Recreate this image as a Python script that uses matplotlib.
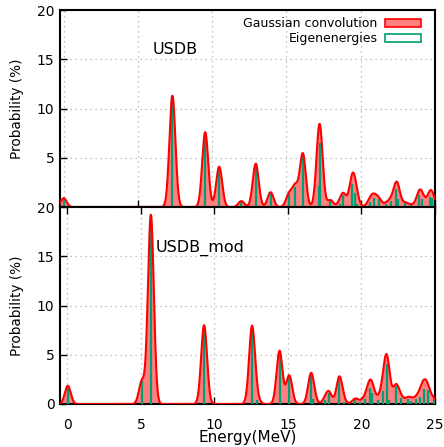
import numpy as np
import matplotlib
matplotlib.use("Agg")
import matplotlib.pyplot as plt
from matplotlib.patches import Patch

# eigenenergies (MeV) and strengths (%)
usdb_e = [0.0, 7.32, 9.53, 10.47, 11.96, 12.93, 13.93, 15.17, 15.59, 16.1,
          17.16, 17.25, 17.95, 18.6, 18.83, 19.41, 19.6, 19.75, 20.6, 20.86,
          21.2, 21.7, 22.03, 22.39, 22.52, 23.0, 23.4, 23.92, 24.14, 24.64, 24.82]
usdb_p = [0.9, 11.3, 7.6, 4.1, 0.6, 4.4, 1.5, 1.3, 2.05, 5.4,
          2.1, 6.5, 0.7, 0.3, 1.25, 2.35, 1.4, 0.3, 0.55, 0.95,
          0.8, 0.3, 0.6, 1.8, 0.8, 0.4, 0.2, 1.2, 0.85, 1.0, 0.9]

mod_e = [0.03, 5.07, 5.68, 9.3, 12.56, 12.9, 14.43, 15.09, 16.56, 16.73,
         17.52, 17.79, 18.5, 18.81, 19.56, 19.9, 20.25, 20.55, 20.75, 21.13,
         21.47, 21.72, 21.88, 22.34, 22.67, 23.14, 23.36, 23.7, 24.0, 24.23,
         24.5, 24.9]
mod_p = [1.85, 2.3, 19.2, 8.0, 7.85, 0.45, 5.4, 2.9, 2.8, 0.5,
         0.4, 1.15, 2.75, 0.2, 0.5, 0.2, 0.5, 1.6, 1.08, 0.4,
         1.32, 4.1, 0.45, 1.8, 0.64, 0.5, 0.3, 0.5, 0.7, 1.5,
         1.42, 0.5]

x_ticks = [0, 5, 10, 15, 20, 25]
y_ticks = [0, 5, 10, 15, 20]

SIGMA = 0.2  # Gaussian width used for the convolution (MeV)

RED = '#ff0000'
FILL = '#ff8080'
GREEN = '#009e73'


def convolve(energies, probs, x):
    e = np.asarray(energies)[:, None]
    p = np.asarray(probs)[:, None]
    return (p * np.exp(-(x[None, :] - e) ** 2 / (2 * SIGMA ** 2))).sum(axis=0)


fig = plt.figure(figsize=(4.44, 4.47), dpi=100)
ax1 = fig.add_axes([0.1351, 0.5369, 0.8446, 0.4407])
ax2 = fig.add_axes([0.1351, 0.0962, 0.8446, 0.4407])

panels = [(ax1, usdb_e, usdb_p, 'USDB', -0.25), (ax2, mod_e, mod_p, 'USDB_mod', -0.5)]

for ax, ee, pp, name, xmin in panels:
    x = np.linspace(xmin, 25, 2000)
    y = convolve(ee, pp, x)
    ax.fill_between(x, 0, y, color=FILL, lw=0, zorder=2)
    ax.vlines(ee, 0, pp, color=GREEN, lw=1.6, zorder=3)
    ax.plot(x, y, color=RED, lw=1.5, zorder=4)

    ax.set_xlim(xmin, 25)
    ax.set_ylim(0, 20)
    ax.set_xticks(x_ticks)
    ax.set_yticks(y_ticks)
    ax.grid(True, color='#b0b0b0', ls=(0, (1, 3)), lw=0.9)
    ax.set_axisbelow(True)
    ax.tick_params(direction='in', length=5, width=1, labelsize=10,
                   colors='black', pad=4)
    ax.tick_params(axis='x', pad=10)
    for s in ax.spines.values():
        s.set_linewidth(1.5)
    ax.set_ylabel('Probability (%)', fontsize=9.8, labelpad=9)
    ax.text(6.0, 15.5, name, fontsize=11.5)

# the lower panel's "20" sits where the upper panel's "0" would be
ax1.set_yticklabels([''] + [str(v) for v in y_ticks[1:]])
ax1.tick_params(labelbottom=False)
ax2.tick_params(top=True)
ax2.set_xlabel('Energy(MeV)', fontsize=11, labelpad=-1)

handles = [Patch(facecolor=FILL, edgecolor=RED, lw=1.2),
           Patch(facecolor='white', edgecolor=GREEN, lw=1.2)]
ax1.legend(handles, ['Gaussian convolution', 'Eigenenergies'],
           loc='upper right', frameon=False, markerfirst=False,
           fontsize=9, handlelength=2.9, handleheight=0.6,
           labelspacing=0.15, handletextpad=0.6, borderaxespad=0.15,
           borderpad=0.5, bbox_to_anchor=(0.985, 1.005))

fig.savefig('out.png', dpi=100)
